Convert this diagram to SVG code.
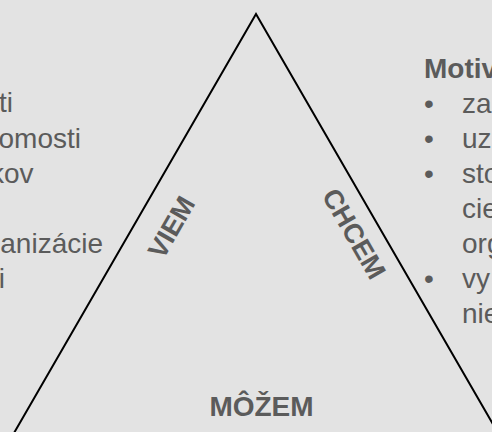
<svg xmlns="http://www.w3.org/2000/svg" width="492" height="432" viewBox="0 0 492 432">
<style>
.t{font-family:"Liberation Sans",Arial,sans-serif;font-size:28px;fill:#5b5b5b}
.b{font-weight:bold}
.lbl{font-family:"Liberation Sans",Arial,sans-serif;font-size:27px;font-weight:bold;fill:#5b5b5b;text-anchor:middle}
.edge{fill:none;stroke:#000;stroke-width:2;stroke-linejoin:miter}
</style>
<rect width="492" height="432" fill="#e3e3e3"/>
<g id="connectors">
<path class="edge" d="M14,433 L256,14 L498,433"/>
</g>
<g id="left-text" class="t" text-anchor="end">
<text x="13" y="112">ti</text>
<text x="81" y="147.5">omosti</text>
<text x="33.5" y="183">kov</text>
<text x="103" y="253">anizácie</text>
<text x="5" y="288">i</text>
</g>
<g id="right-text" class="t">
<text x="424" y="78" class="b">Motiv</text>
<text x="424" y="113">•</text><text x="462" y="113">za</text>
<text x="424" y="148">•</text><text x="462" y="148">uz</text>
<text x="424" y="183">•</text><text x="462" y="183">sto</text>
<text x="462" y="218">cie</text>
<text x="462" y="253">org</text>
<text x="424" y="288">•</text><text x="462" y="288">vy</text>
<text x="462" y="323">nie</text>
</g>
<g id="viem"><text class="lbl" transform="translate(171,227) rotate(-60)" x="0" y="9.7">VIEM</text></g>
<g id="chcem"><text class="lbl" transform="translate(354.5,233.5) rotate(60)" x="0" y="9.7">CHCEM</text></g>
<g id="mozem"><text class="lbl" x="261.5" y="416" style="font-size:28px">MÔŽEM</text></g>
</svg>
